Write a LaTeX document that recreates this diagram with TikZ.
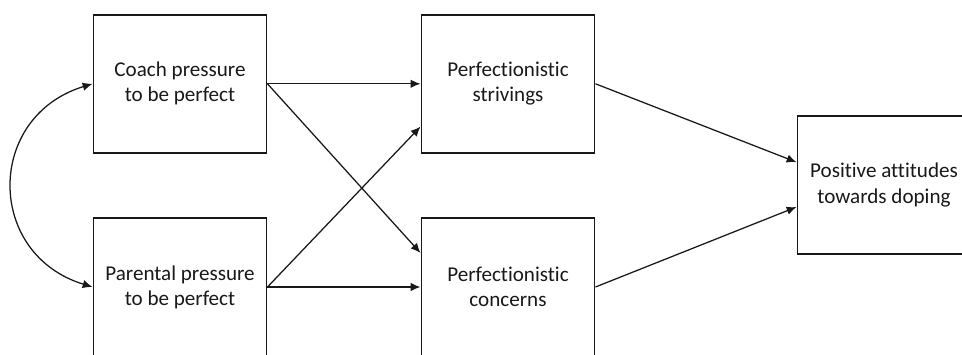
\documentclass[tikz,border=0pt]{standalone}
\usepackage{fontspec}
\setmainfont[Ligatures={NoCommon}]{Carlito}
\usetikzlibrary{arrows.meta}

\begin{document}
\begin{tikzpicture}
[->,>={Latex[length=7pt,width=6pt]},line width=0.9pt,color=black!90,%
  every node/.style={shape=rectangle,draw,line width=1.4pt,align=center,%
    minimum width=4.325cm,minimum height=3.45cm,%
    font=\fontsize{15}{17.8}\selectfont}]
\useasboundingbox (0,0) rectangle (24.05,8.875);
\node (coach) at (4.5,6.78) {Coach pressure\\to be perfect};
\node (parental) at (4.5,1.7) {Parental pressure\\to be perfect};
\node (strivings) at (12.7,6.78) {Perfectionistic\\strivings};
\node (concerns) at (12.7,1.7) {Perfectionistic\\concerns};
\node (positive) at (22.1,4.25) {Positive attitudes\\towards doping};
\draw (coach.east) -- (strivings.west);
\draw (coach.east) -- ([yshift=0.85cm]concerns.west);
\draw (parental.east) -- (concerns.west);
\draw (parental.east) -- ([yshift=-1.07cm]strivings.west);
\draw (strivings.east) -- ([yshift=0.57cm]positive.west);
\draw (concerns.east) -- ([yshift=-0.55cm]positive.west);
% covariance
\draw[<->] (coach.west) .. controls +(197:2.8cm) and +(163:2.8cm) .. (parental.west);
\end{tikzpicture}
\end{document}
